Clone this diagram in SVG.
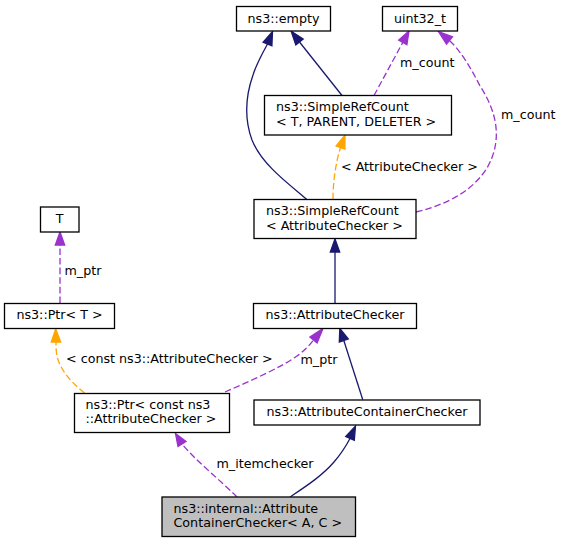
<svg xmlns="http://www.w3.org/2000/svg" width="563" height="543" viewBox="0 0 563 543">
<style>
text { font-family: "DejaVu Sans", "Liberation Sans", sans-serif; font-size: 12.7px; fill: #000; }
.node rect { fill: #fff; stroke: #000; stroke-width: 1.3; }
.node.cur rect { fill: #bfbfbf; }
.c { text-anchor: middle; }
.e path { fill: none; stroke-width: 1.3; }
.e polygon { stroke-width: 1.3; }
.inh path { stroke: #191970; }
.inh polygon { fill: #191970; stroke: #191970; }
.use path { stroke: #9a32cd; stroke-dasharray: 6.6,3; }
.use polygon { fill: #9a32cd; stroke: #9a32cd; }
.tpl path { stroke: #ffa500; stroke-dasharray: 6.6,3; }
.tpl polygon { fill: #ffa500; stroke: #ffa500; }
</style>
<rect width="563" height="543" fill="#fff"/>
<g id="connectors">
  <g class="e inh">
    <path d="M306.5,199 C290,185 262,165 252,140 C244,118 246,95 253,75 C256,65 262,54 267.5,44"/>
    <polygon points="272.5,31.5 271.9,45.7 263.1,42.3"/>
  </g>
  <g class="e inh">
    <path d="M342,95.5 L299.5,42"/>
    <polygon points="291.2,31.3 303.2,39.1 295.8,44.9"/>
  </g>
  <g class="e use">
    <path d="M374,95.5 L402.8,42.4"/>
    <polygon points="409,31 406.9,44.7 398.7,40.1"/>
  </g>
  <g class="e use">
    <path d="M416,212 C445,205 472,192 487,168 C503,140 497,112 480,86 C472,70 461,51 449.5,40.5"/>
    <polygon points="438.5,31.5 452.5,36.9 446.5,44.1"/>
  </g>
  <g class="e tpl">
    <path d="M333,199 C333,185 335,165 340.5,147.5"/>
    <polygon points="345,135 344.9,149.1 336.1,145.9"/>
  </g>
  <g class="e use">
    <path d="M60,303 L60,245"/>
    <polygon points="60,232 64.7,245 55.3,245"/>
  </g>
  <g class="e tpl">
    <path d="M84.5,393 C72,383 60,370 57,356 C56,351 56,347 56,342"/>
    <polygon points="55.7,329 60.7,342 51.3,342"/>
  </g>
  <g class="e inh">
    <path d="M335,303 L335,252"/>
    <polygon points="335,239 339.7,252 330.3,252"/>
  </g>
  <g class="e inh">
    <path d="M362.7,399.5 L343.8,340.5"/>
    <polygon points="339.8,328.5 348.3,339 339.3,342"/>
  </g>
  <g class="e use">
    <path d="M225,392 C250,381 280,368 297,356 C304,351 309,346 313.5,340"/>
    <polygon points="323,328.5 317.1,343 309.9,337"/>
  </g>
  <g class="e use">
    <path d="M237,497 C220,480 195,460 182,444"/>
    <polygon points="175.5,433.5 186,441.5 178,446.5"/>
  </g>
  <g class="e inh">
    <path d="M290,497 C305,487 322,476 334,462 C341,454 346,446 350,438.5"/>
    <polygon points="355.5,426 354.3,440.4 345.7,436.6"/>
  </g>
  <text x="400" y="67">m_count</text>
  <text x="501" y="118.5">m_count</text>
  <text x="341" y="170.5">&lt; AttributeChecker &gt;</text>
  <text x="64.5" y="275">m_ptr</text>
  <text x="66" y="362.5">&lt; const ns3::AttributeChecker &gt;</text>
  <text x="300.5" y="363.5">m_ptr</text>
  <text x="216.5" y="467.5">m_itemchecker</text>
</g>
<g id="node-empty" class="node">
  <rect x="236.5" y="6.5" width="94" height="24.5"/>
  <text class="c" x="283.5" y="22.5">ns3::empty</text>
</g>
<g id="node-uint32" class="node">
  <rect x="382.5" y="6.5" width="75" height="24.5"/>
  <text class="c" x="420" y="22.5">uint32_t</text>
</g>
<g id="node-src-tpd" class="node">
  <rect x="264.5" y="95.5" width="187" height="39.5"/>
  <text x="276" y="110.5">ns3::SimpleRefCount</text>
  <text x="276" y="125.5">&lt; T, PARENT, DELETER &gt;</text>
</g>
<g id="node-src-ac" class="node">
  <rect x="254" y="199.5" width="162" height="39"/>
  <text x="266" y="214.5">ns3::SimpleRefCount</text>
  <text x="266" y="229.5">&lt; AttributeChecker &gt;</text>
</g>
<g id="node-T" class="node">
  <rect x="40.5" y="207" width="38.5" height="25"/>
  <text class="c" x="59.75" y="223">T</text>
</g>
<g id="node-ptr-t" class="node">
  <rect x="4.5" y="303.5" width="110" height="25"/>
  <text class="c" x="59.5" y="318.5">ns3::Ptr&lt; T &gt;</text>
</g>
<g id="node-attributechecker" class="node">
  <rect x="253.5" y="303.5" width="163" height="25"/>
  <text class="c" x="335" y="318.5">ns3::AttributeChecker</text>
</g>
<g id="node-ptr-const" class="node">
  <rect x="74.5" y="393.5" width="155" height="39"/>
  <text x="85.5" y="408.5">ns3::Ptr&lt; const ns3</text>
  <text x="85.5" y="423">::AttributeChecker &gt;</text>
</g>
<g id="node-attributecontainerchecker" class="node">
  <rect x="254" y="400" width="226" height="25"/>
  <text class="c" x="367" y="415.5">ns3::AttributeContainerChecker</text>
</g>
<g id="node-internal" class="node cur">
  <rect x="162" y="497" width="193.5" height="39.5"/>
  <text x="173.5" y="512.5">ns3::internal::Attribute</text>
  <text x="173.5" y="527">ContainerChecker&lt; A, C &gt;</text>
</g>
</svg>
